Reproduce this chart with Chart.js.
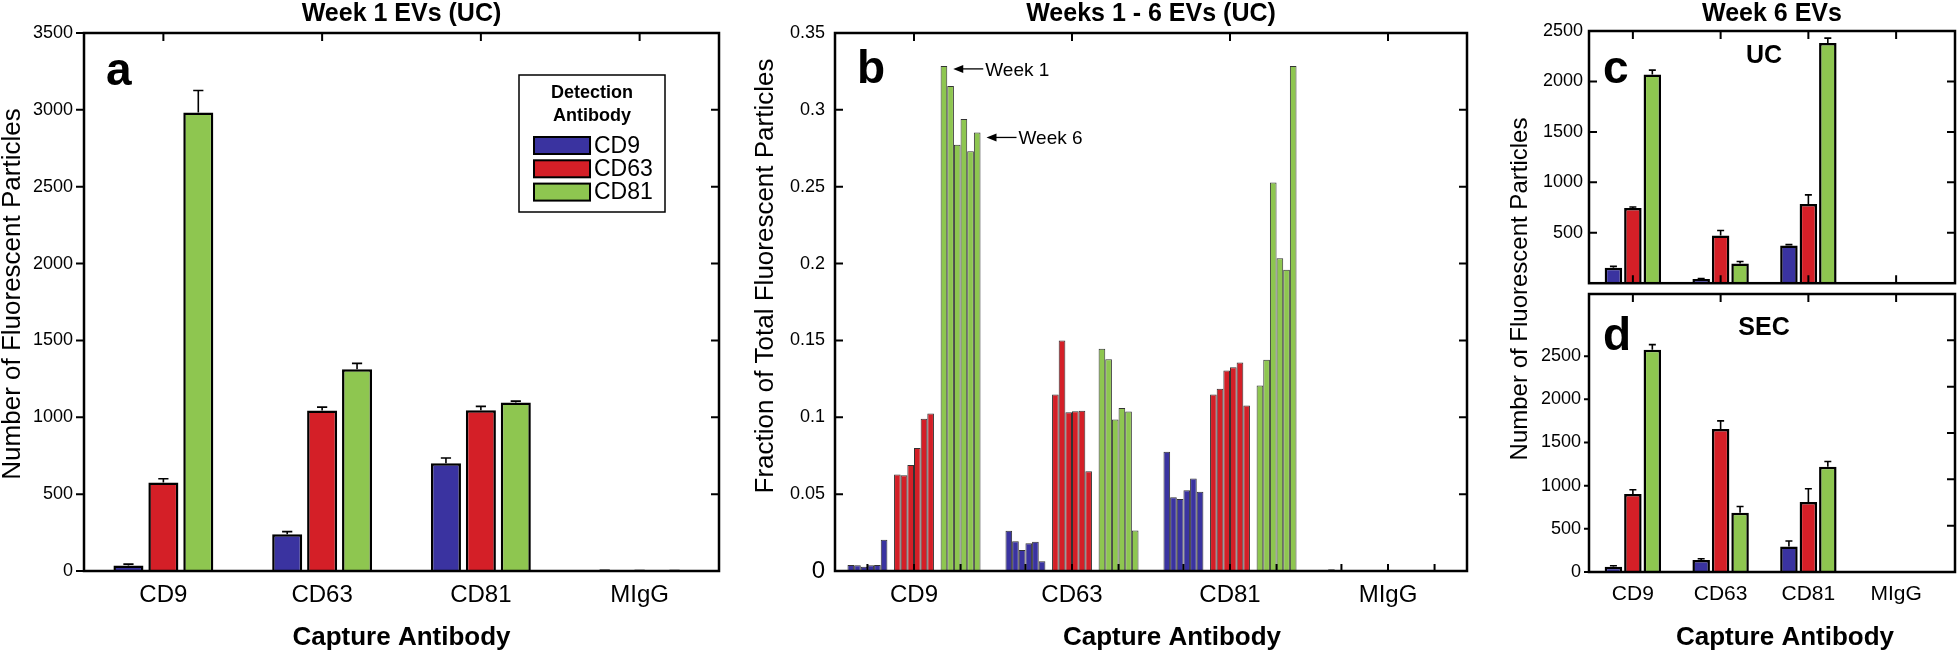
<!DOCTYPE html>
<html>
<head>
<meta charset="utf-8">
<title>EV capture / detection antibody counts</title>
<script src="https://cdn.jsdelivr.net/npm/chart.js@4.4.1/dist/chart.umd.min.js"></script>
<style>
  html, body { margin: 0; padding: 0; background: #fff; }
  #wrap { position: relative; width: 1958px; height: 652px; overflow: hidden; }
  canvas { position: absolute; top: 0; }
</style>
</head>
<body>
<div id="wrap">
  <canvas id="chartA" width="740" height="652" style="left:0"></canvas>
  <canvas id="chartB" width="740" height="652" style="left:740px"></canvas>
  <canvas id="chartD" width="478" height="652" style="left:1480px"></canvas>
  <canvas id="chartC" width="478" height="300" style="left:1480px"></canvas>
</div>
<script>
// categories
const captureLabels = ['CD9', 'CD63', 'CD81', 'MIgG'];
const detectionLabels = ['CD9', 'CD63', 'CD81'];
const weekLabels = ['Week 1', 'Week 2', 'Week 3', 'Week 4', 'Week 5', 'Week 6'];
const detectionColors = ['#3a33a0', '#d41f27', '#8ec650'];

// a - Week 1 EVs (UC), one value per capture antibody
const week1CD9 = [35, 239, 701, 3];
const week1CD63 = [575, 1044, 1045, 2];
const week1CD81 = [2983, 1313, 1096, 2];
const week1CD9Err = [10, 17, 34, 1];
const week1CD63Err = [25, 22, 26, 1];
const week1CD81Err = [143, 38, 9, 1];

// b - weeks 1..6 fraction of total (rows = capture antibody, cols = week)
const weeksCD9 = [
  [0.0039, 0.0037, 0.0028, 0.0037, 0.0039, 0.0203],
  [0.0262, 0.0193, 0.0136, 0.018, 0.019, 0.0063],
  [0.0775, 0.048, 0.0468, 0.0526, 0.0602, 0.0515],
  [0, 0.0012, 0.0002, 0.0003, 0, 0]
];
const weeksCD63 = [
  [0.0628, 0.0623, 0.069, 0.080, 0.099, 0.1024],
  [0.1149, 0.150, 0.1032, 0.1039, 0.1043, 0.0649],
  [0.1149, 0.1186, 0.1305, 0.1325, 0.1357, 0.1076],
  [0, 0, 0.0005, 0.0007, 0.0006, 0]
];
const weeksCD81 = [
  [0.3286, 0.3156, 0.2773, 0.294, 0.273, 0.2853],
  [0.1446, 0.1377, 0.0985, 0.106, 0.1037, 0.0264],
  [0.1206, 0.1375, 0.2528, 0.2035, 0.1959, 0.3286],
  [0.0002, 0.0002, 0.0001, 0.0002, 0.0001, 0.0002]
];

// c - Week 6 EVs, UC
const ucCD9 = [152, 41, 373, 0];
const ucCD63 = [746, 474, 784, 0];
const ucCD81 = [2068, 195, 2381, 0];
const ucCD9Err = [15, 5, 9, 0];
const ucCD63Err = [9, 48, 92, 0];
const ucCD81Err = [44, 20, 48, 0];

// d - Week 6 EVs, SEC
const secCD9 = [61, 139, 296, 3];
const secCD63 = [903, 1655, 810, 2];
const secCD81 = [2573, 686, 1219, 2];
const secCD9Err = [12, 15, 63, 0];
const secCD63Err = [50, 96, 154, 0];
const secCD81Err = [61, 73, 61, 0];

// axis ranges and tick labels
const yMaxA = 3500, yMaxB = 0.35, yMaxC = 2500, yMaxD = 3220, yMaxDRight = 3000;
const yTicksA = [0, 500, 1000, 1500, 2000, 2500, 3000, 3500];
const yTicksB = [0, 0.05, 0.1, 0.15, 0.2, 0.25, 0.3, 0.35];
const yTicksC = [500, 1000, 1500, 2000, 2500];
const yTicksD = [0, 500, 1000, 1500, 2000, 2500];
const yTicksDRight = [500, 1000, 1500, 2000, 2500, 3000];

const FONT = "'Liberation Sans', Arial, sans-serif";
Chart.defaults.font.family = FONT;
Chart.defaults.color = '#000';
Chart.defaults.animation = false;
Chart.defaults.plugins.legend.display = false;
Chart.defaults.plugins.tooltip.enabled = false;

function groupedSets(valueLists, errLists) {
    return valueLists.map((vals, i) => ({
        label: detectionLabels[i],
        data: vals,
        errors: errLists[i],
        backgroundColor: detectionColors[i],
        borderColor: '#000',
        borderWidth: 2.5
    }));
}

function setTicks(values) {
    return s => { s.ticks = values.map(v => ({ value: v })); };
}

function text(ctx, str, x, y, font, align) {
    ctx.font = font;
    ctx.textAlign = align || 'center';
    ctx.textBaseline = 'alphabetic';
    ctx.fillStyle = '#000';
    ctx.fillText(str, x, y);
}

// frame, inward ticks, error bars and panel texts
function decor(cfg) {
    return {
        id: 'decor',
        afterDatasetsDraw(chart) {
            const ctx = chart.ctx;
            const {left, right, top, bottom} = chart.chartArea;
            const xs = chart.scales.x, ys = chart.scales.y;
            const r = right + (cfg.extraRight || 0);
            ctx.save();

            // error bars
            ctx.strokeStyle = '#000';
            ctx.lineWidth = 1.6;
            chart.data.datasets.forEach((ds, i) => {
                if (!ds.errors) return;
                chart.getDatasetMeta(i).data.forEach((bar, j) => {
                    const err = ds.errors[j];
                    if (!err) return;
                    const yTop = ys.getPixelForValue(ds.data[j] + err);
                    const cap = bar.width * cfg.capRatio / 2;
                    ctx.beginPath();
                    ctx.moveTo(bar.x, bar.y);
                    ctx.lineTo(bar.x, yTop);
                    ctx.moveTo(bar.x - cap, yTop);
                    ctx.lineTo(bar.x + cap, yTop);
                    ctx.stroke();
                });
            });

            // box
            ctx.lineWidth = 2.5;
            ctx.strokeRect(left, top, r - left, bottom - top);

            // ticks
            ctx.lineWidth = 2;
            ctx.beginPath();
            xs.ticks.forEach((t, i) => {
                const px = xs.getPixelForTick(i);
                if (cfg.topTicks) { ctx.moveTo(px, top); ctx.lineTo(px, top + 8); }
                if (cfg.bottomTicks) { ctx.moveTo(px, bottom); ctx.lineTo(px, bottom - 8); }
            });
            (cfg.groupTicks || []).forEach(([d1, d2]) => {
                const m1 = chart.getDatasetMeta(d1).data, m2 = chart.getDatasetMeta(d2).data;
                m1.forEach((bar, j) => {
                    const px = (bar.x + m2[j].x) / 2;
                    ctx.moveTo(px, bottom); ctx.lineTo(px, bottom - 7);
                });
            });
            ys.ticks.forEach(t => {
                const py = ys.getPixelForValue(t.value);
                ctx.moveTo(left, py); ctx.lineTo(left + cfg.leftTick, py);
            });
            const yr = chart.scales[cfg.rightScale || 'y'];
            yr.ticks.forEach(t => {
                const py = yr.getPixelForValue(t.value);
                ctx.moveTo(r, py); ctx.lineTo(r - 8, py);
            });
            ctx.stroke();

            // texts
            const mid = (left + r) / 2;
            if (cfg.title) text(ctx, cfg.title, mid, 21, 'bold 25px ' + FONT);
            if (cfg.letter) text(ctx, cfg.letter.text, cfg.letter.x, cfg.letter.y, 'bold 46px ' + FONT, 'left');
            if (cfg.xTitle) text(ctx, 'Capture Antibody', mid + cfg.xTitle.dx, 645, 'bold 26px ' + FONT);
            if (cfg.yTitle) {
                ctx.save();
                ctx.translate(cfg.yTitle.x, cfg.yTitle.y);
                ctx.rotate(-Math.PI / 2);
                text(ctx, cfg.yTitle.text, 0, 0, cfg.yTitle.size + 'px ' + FONT);
                ctx.restore();
            }
            if (cfg.extra) cfg.extra(chart, ctx);
            ctx.restore();
        }
    };
}

function baseOptions(o) {
    return {
        responsive: false,
        layout: { padding: { top: o.top, right: o.right, left: 0, bottom: 0 } },
        datasets: { bar: { categoryPercentage: o.catPct, barPercentage: o.barPct } },
        scales: {
            x: {
                type: 'category',
                grid: { display: false, drawTicks: false },
                border: { display: false },
                ticks: { display: o.xLabels, font: { size: o.xFont }, padding: 10, maxRotation: 0 },
                afterFit: s => { s.height = o.xHeight; }
            },
            y: {
                min: 0,
                max: o.yMax,
                grid: { display: false, drawTicks: false },
                border: { display: false },
                ticks: {
                    font: o.yFont || { size: 18 },
                    padding: o.yPad,
                    callback: v => String(+v.toFixed(2))
                },
                afterBuildTicks: setTicks(o.yTicks),
                afterFit: s => { s.width = o.yWidth; }
            }
        }
    };
}

// ---- panel a
function legendA(chart, ctx) {
    ctx.lineWidth = 1.5;
    ctx.strokeStyle = '#000';
    ctx.strokeRect(519, 75, 146, 137);
    text(ctx, 'Detection', 592, 98, 'bold 18px ' + FONT);
    text(ctx, 'Antibody', 592, 121, 'bold 18px ' + FONT);
    chart.data.datasets.forEach((ds, i) => {
        const y = 137 + i * 23.3;
        ctx.fillStyle = ds.backgroundColor;
        ctx.fillRect(534, y, 56, 17);
        ctx.lineWidth = 2;
        ctx.strokeRect(534, y, 56, 17);
        text(ctx, ds.label, 594, y + 15.5, '23px ' + FONT, 'left');
    });
}

new Chart(document.getElementById('chartA'), {
    type: 'bar',
    data: {
        labels: captureLabels,
        datasets: groupedSets([week1CD9, week1CD63, week1CD81], [week1CD9Err, week1CD63Err, week1CD81Err])
    },
    options: baseOptions({ top: 33, right: 21, catPct: 0.66, barPct: 0.86, xLabels: true, xFont: 24,
        xHeight: 81, yMax: yMaxA, yTicks: yTicksA, yPad: 11, yWidth: 84 }),
    plugins: [decor({
        topTicks: true, leftTick: -8, capRatio: 0.34,
        title: 'Week 1 EVs (UC)',
        letter: { text: 'a', x: 106, y: 85 },
        xTitle: { dx: 0 },
        yTitle: { text: 'Number of Fluorescent Particles', x: 20, y: 294, size: 26 },
        extra: legendA
    })]
});

// ---- panel b
const setsB = [];
[weeksCD9, weeksCD63, weeksCD81].forEach((rows, d) => {
    if (d > 0) setsB.push({ label: 'gap', data: captureLabels.map(() => null) });
    weekLabels.forEach((wk, w) => setsB.push({
        label: detectionLabels[d] + ' ' + wk,
        data: rows.map(row => row[w]),
        backgroundColor: detectionColors[d],
        borderColor: '#333',
        borderWidth: 1
    }));
});

function arrowNote(ctx, bar, dy, str) {
    const tipX = bar.x + bar.width / 2 + 6, y = bar.y + dy;
    ctx.strokeStyle = '#000';
    ctx.fillStyle = '#000';
    ctx.lineWidth = 1.3;
    ctx.beginPath();
    ctx.moveTo(tipX + 8, y);
    ctx.lineTo(tipX + 30, y);
    ctx.stroke();
    ctx.beginPath();
    ctx.moveTo(tipX, y);
    ctx.lineTo(tipX + 10, y - 4);
    ctx.lineTo(tipX + 10, y + 4);
    ctx.closePath();
    ctx.fill();
    text(ctx, str, tipX + 32, y + 7, '19px ' + FONT, 'left');
}

function notesB(chart, ctx) {
    const w1 = setsB.findIndex(s => s.label === 'CD81 Week 1');
    const w6 = setsB.findIndex(s => s.label === 'CD81 Week 6');
    arrowNote(ctx, chart.getDatasetMeta(w1).data[0], 3, 'Week 1');
    arrowNote(ctx, chart.getDatasetMeta(w6).data[0], 5, 'Week 6');
}

const gapIdx = setsB.map((s, i) => s.label === 'gap' ? i : -1).filter(i => i >= 0);

new Chart(document.getElementById('chartB'), {
    type: 'bar',
    data: { labels: captureLabels, datasets: setsB },
    options: baseOptions({ top: 33, right: 13, catPct: 0.842, barPct: 1, xLabels: true, xFont: 24,
        xHeight: 81, yMax: yMaxB, yTicks: yTicksB, yPad: 10, yWidth: 95,
        yFont: c => ({ size: c.tick && c.tick.value === 0 ? 24 : 18 }) }),
    plugins: [decor({
        topTicks: true, leftTick: 8, capRatio: 0,
        groupTicks: [[2, 3], [gapIdx[0] + 3, gapIdx[0] + 4], [gapIdx[1] + 3, gapIdx[1] + 4]],
        title: 'Weeks 1 - 6 EVs (UC)',
        letter: { text: 'b', x: 117, y: 83 },
        xTitle: { dx: 21 },
        yTitle: { text: 'Fraction of Total Fluorescent Particles', x: 33, y: 276, size: 26 },
        extra: notesB
    })]
});

// ---- panel d (full height canvas, holds the shared y title)
const optsD = baseOptions({ top: 294, right: 18, catPct: 0.665, barPct: 0.9, xLabels: true, xFont: 21,
    xHeight: 80, yMax: yMaxD, yTicks: yTicksD, yPad: 8, yWidth: 109 });
optsD.scales.yR = { type: 'linear', position: 'right', display: false, min: 0, max: yMaxDRight,
    afterBuildTicks: setTicks(yTicksDRight) };

new Chart(document.getElementById('chartD'), {
    type: 'bar',
    data: {
        labels: captureLabels,
        datasets: groupedSets([secCD9, secCD63, secCD81], [secCD9Err, secCD63Err, secCD81Err])
    },
    options: optsD,
    plugins: [decor({
        extraRight: 15, topTicks: true, leftTick: -5, rightScale: 'yR', capRatio: 0.4,
        letter: { text: 'd', x: 123, y: 350 },
        xTitle: { dx: 13 },
        yTitle: { text: 'Number of Fluorescent Particles', x: 47, y: 289, size: 24 },
        extra: (chart, ctx) => text(ctx, 'SEC', 284, 335, 'bold 25px ' + FONT)
    })]
});

// ---- panel c
new Chart(document.getElementById('chartC'), {
    type: 'bar',
    data: {
        labels: captureLabels,
        datasets: groupedSets([ucCD9, ucCD63, ucCD81], [ucCD9Err, ucCD63Err, ucCD81Err])
    },
    options: baseOptions({ top: 31, right: 18, catPct: 0.665, barPct: 0.9, xLabels: false, xFont: 21,
        xHeight: 6, yMax: yMaxC, yTicks: yTicksC, yPad: 6, yWidth: 109 }),
    plugins: [decor({
        extraRight: 15, topTicks: true, bottomTicks: true, leftTick: 8, capRatio: 0.4,
        title: 'Week 6 EVs',
        letter: { text: 'c', x: 123, y: 83 },
        extra: (chart, ctx) => text(ctx, 'UC', 284, 63, 'bold 25px ' + FONT)
    })]
});
</script>
</body>
</html>
